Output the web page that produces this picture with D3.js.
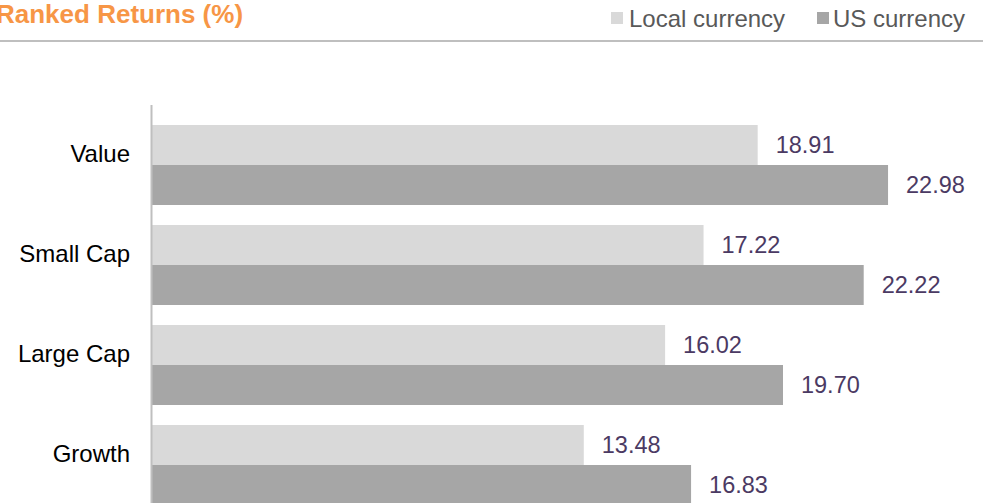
<!DOCTYPE html>
<html><head><meta charset="utf-8">
<script src="https://cdn.jsdelivr.net/npm/d3@7"></script>
<style>body{margin:0;background:#fff;overflow:hidden}svg{display:block}text{font-family:"Liberation Sans",Arial,sans-serif}</style>
</head><body>
<script>
const categories = ["Value", "Small Cap", "Large Cap", "Growth"];
const seriesNames = ["Local currency", "US currency"];
const localValues = [18.91, 17.22, 16.02, 13.48];
const usValues = [22.98, 22.22, 19.70, 16.83];
const colors = ["#d9d9d9", "#a6a6a6"];

const W = 983, H = 503;
const svg = d3.select("body").append("svg").attr("width", W).attr("height", H);

const x0 = 152;
const x = d3.scaleLinear().domain([0, 25]).range([x0, x0 + 25 * 32.03]);
const y = d3.scaleBand().domain(categories).range([115, 515]).paddingInner(0.2).paddingOuter(0.1);
const ys = d3.scaleBand().domain(seriesNames).range([0, y.bandwidth()]);

// title
svg.append("text").attr("x", -4).attr("y", 23).attr("fill", "#f79646")
  .attr("font-size", 26).attr("font-weight", "bold").text("Ranked Returns (%)");
svg.append("line").attr("x1", 0).attr("x2", W).attr("y1", 41).attr("y2", 41)
  .attr("stroke", "#bfbfbf").attr("stroke-width", 2);

// legend
const legX = [611, 817];
const legTX = [629, 833];
seriesNames.forEach((n, i) => {
  svg.append("rect").attr("x", legX[i]).attr("y", 12).attr("width", 12).attr("height", 12).attr("fill", colors[i]);
  svg.append("text").attr("x", legTX[i]).attr("y", 27).attr("fill", "#595959")
    .attr("font-size", 24).text(n);
});

const data = categories.map((c, i) => ({c, vals: [localValues[i], usValues[i]]}));
const g = svg.selectAll("g.cat").data(data).join("g").attr("class", "cat")
  .attr("transform", d => `translate(0,${y(d.c)})`);
g.selectAll("rect").data(d => d.vals.map((v, i) => ({v, s: seriesNames[i], i})))
  .join("rect")
  .attr("x", x(0)).attr("y", d => ys(d.s)).attr("width", d => x(d.v) - x(0))
  .attr("height", ys.bandwidth()).attr("fill", d => colors[d.i]);
g.selectAll("text.val").data(d => d.vals.map((v, i) => ({v, s: seriesNames[i], i})))
  .join("text").attr("class", "val")
  .attr("x", d => x(d.v) + 18).attr("y", d => ys(d.s) + ys.bandwidth() / 2)
  .attr("dy", "0.35em").attr("font-size", 23.5).attr("fill", "#4b3a63")
  .text(d => d.v.toFixed(2));

// category axis
const axis = svg.append("g").attr("transform", `translate(${x0},0)`)
  .call(d3.axisLeft(y).tickSize(0).tickPadding(22));
axis.select(".domain").remove();
axis.selectAll("text").attr("font-size", 24).attr("fill", "#000").attr("dy", "-0.12em")
  .attr("font-family", '"Liberation Sans",Arial,sans-serif');
svg.append("line").attr("x1", x0 - 0.5).attr("x2", x0 - 0.5).attr("y1", 105).attr("y2", H)
  .attr("stroke", "#bfbfbf").attr("stroke-width", 2);
</script>
</body></html>
